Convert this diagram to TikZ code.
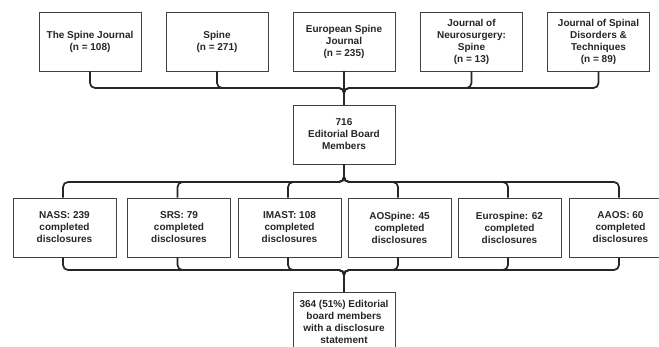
\documentclass[tikz,border=0pt]{standalone}
\usepackage{fontspec}
\setmainfont{Liberation Sans}
\begin{document}
\begin{tikzpicture}[x=1bp,y=-1bp,
  box/.style={draw=black!75,line width=0.8bp,fill=white,minimum width=102bp,minimum height=59bp,
    align=center,inner sep=2bp,font=\fontsize{10bp}{12bp}\selectfont\bfseries,text=black!85},
  conn/.style={draw=black!85,line width=1.7bp,rounded corners=5bp}]
\useasboundingbox[fill=white] (0,0) rectangle (659,346);
% top row
\node[box] (j1) at (90,41.5) {The Spine Journal\\(n = 108)};
\node[box] (j2) at (217,41.5) {Spine\\(n = 271)};
\node[box] (j3) at (344,41.5) {European Spine\\Journal\\(n = 235)};
\node[box] (j4) at (471.5,41.5) {Journal of\\Neurosurgery:\\Spine\\(n = 13)};
\node[box] (j5) at (598.5,41.5) {Journal of Spinal\\Disorders \&\\Techniques\\(n = 89)};
% middle
\node[box] (mid) at (344,134.5) {716\\Editorial Board\\Members};
% societies
\node[box,minimum width=103bp] (s1) at (64.5,227.5) {NASS: 239\\completed\\disclosures};
\node[box,minimum width=103bp] (s2) at (179,227.5) {SRS: 79\\completed\\disclosures};
\node[box,minimum width=103bp] (s3) at (289.5,227.5) {IMAST: 108\\completed\\disclosures};
\node[box,minimum width=103bp] (s4) at (399.5,227.5) {AOSpine: 45\\completed\\disclosures};
\node[box,minimum width=103bp] (s5) at (509.5,227.5) {Eurospine: 62\\completed\\disclosures};
\node[box,minimum width=103bp] (s6) at (620.5,227.5) {AAOS: 60\\completed\\disclosures};
% result
\node[box] (res) at (344,321.5) {364 (51\%) Editorial\\board members\\with a disclosure\\statement};
% buses
\coordinate (tb) at (344,88);
\coordinate (lb) at (344,182);
\coordinate (bb) at (344,270);
\foreach \j in {j1,j2,j4,j5}{\draw[conn] (\j.south) |- (tb) -- (mid.north);}
\draw[conn] (j3.south) -- (mid.north);
\foreach \s in {s1,s2,s3,s4,s5,s6}{
  \draw[conn] (mid.south) -- (lb) -| ([xshift=-1.5bp]\s.north);
  \draw[conn] ([xshift=-1.5bp]\s.south) |- (bb) -- (res.north);}
\end{tikzpicture}
\end{document}
